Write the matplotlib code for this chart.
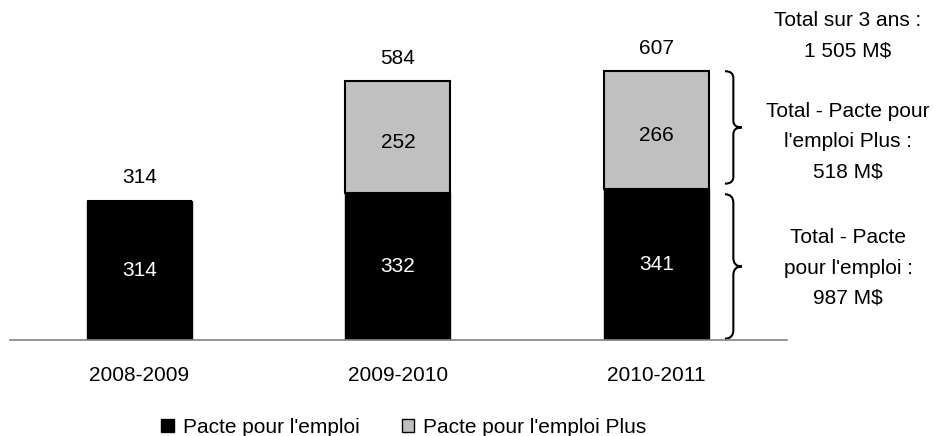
import matplotlib.pyplot as plt
from matplotlib.path import Path
from matplotlib.patches import PathPatch, Patch

plt.rcParams['font.family'] = ['Liberation Sans', 'DejaVu Sans']

# Data
years = ['2008-2009', '2009-2010', '2010-2011']
pacte = [314, 332, 341]
pacte_plus = [0, 252, 266]
totals = [314, 584, 607]
grey = '#C0C0C0'
fs = 15


def draw_brace(ax, x_hook, x_tip, y_top, y_bot):
    """ Draws a right-pointing curly brace in data coordinates """
    x_mid = (x_hook + x_tip) / 2
    y_c = (y_top + y_bot) / 2
    r = (y_top - y_bot) * 0.06
    verts = [
        (x_hook, y_top), (x_mid, y_top), (x_mid, y_top - r),
        (x_mid, y_c + r),
        (x_mid, y_c), (x_tip, y_c),
        (x_mid, y_c), (x_mid, y_c - r),
        (x_mid, y_bot + r),
        (x_mid, y_bot), (x_hook, y_bot),
    ]
    codes = [Path.MOVETO, Path.CURVE3, Path.CURVE3,
             Path.LINETO,
             Path.CURVE3, Path.CURVE3,
             Path.CURVE3, Path.CURVE3,
             Path.LINETO,
             Path.CURVE3, Path.CURVE3]
    ax.add_patch(PathPatch(Path(verts, codes), fill=False, lw=1.5,
                           edgecolor='black', clip_on=False))


fig = plt.figure(figsize=(9.34, 4.36), dpi=100)
ax = fig.add_axes([10 / 934, 96 / 436, 777 / 934, 310 / 436])

x = range(len(years))
width = 0.406
ax.bar(x, pacte, width, color='black', edgecolor='black', linewidth=1)
ax.bar(x, pacte_plus, width, bottom=pacte, color=grey, edgecolor='black',
       linewidth=1.5)

for i in x:
    ax.text(i, pacte[i] / 2, str(pacte[i]), color='white', ha='center',
            va='center', fontsize=fs)
    if pacte_plus[i]:
        ax.text(i, pacte[i] + pacte_plus[i] / 2 - 12, str(pacte_plus[i]),
                color='black', ha='center', va='center', fontsize=fs)
    ax.text(i, totals[i] + 52, str(totals[i]), ha='center', va='center',
            fontsize=fs)

ax.set_xlim(-0.5, 2.505)
ax.set_ylim(0, 700)
ax.set_xticks(list(x))
ax.set_xticklabels(years, fontsize=fs)
ax.tick_params(axis='x', length=0, pad=19)
ax.set_yticks([])
for side in ['top', 'right', 'left']:
    ax.spines[side].set_visible(False)
ax.spines['bottom'].set_color('#808080')
ax.spines['bottom'].set_linewidth(1.2)

# Braces on the right
draw_brace(ax, 2.265, 2.33, totals[2], pacte[2] + 12)
draw_brace(ax, 2.265, 2.33, pacte[2] - 12, 3)

# Side notes
fig.text(848 / 934, 1 - 36 / 436, "Total sur 3 ans :\n1 505 M$", ha='center',
         va='center', fontsize=fs, linespacing=1.75)
fig.text(848 / 934, 1 - 141.5 / 436, "Total - Pacte pour\nl'emploi Plus :\n518 M$",
         ha='center', va='center', fontsize=fs, linespacing=1.75)
fig.text(848 / 934, 1 - 268 / 436, "Total - Pacte\npour l'emploi :\n987 M$",
         ha='center', va='center', fontsize=fs, linespacing=1.75)

# Legend
handles = [Patch(facecolor='black', edgecolor='black'),
           Patch(facecolor=grey, edgecolor='black')]
fig.legend(handles, ["Pacte pour l'emploi", "Pacte pour l'emploi Plus"],
           loc='center', bbox_to_anchor=(404 / 934, 1 - 427 / 436), ncol=2,
           frameon=False, fontsize=fs, handlelength=0.6, handleheight=0.6,
           handletextpad=0.45, columnspacing=2.0)

fig.savefig('out.png', dpi=100)
